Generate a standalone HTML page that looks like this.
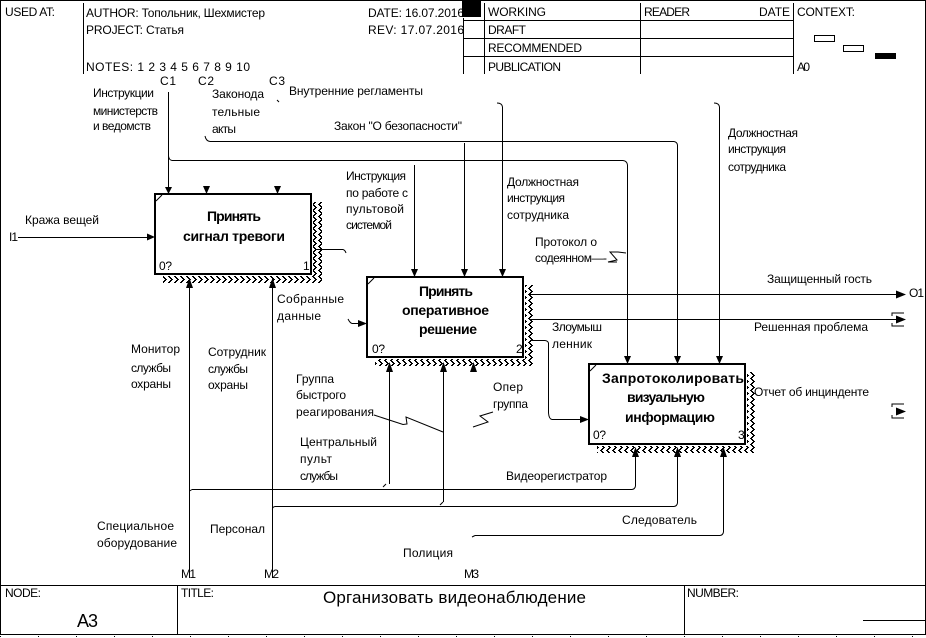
<!DOCTYPE html>
<html><head><meta charset="utf-8"><style>
html,body{margin:0;padding:0;background:#fff;width:926px;height:638px;overflow:hidden}
svg{display:block}
text{font-family:"Liberation Sans",sans-serif;font-size:12px;fill:#000}
.b{font-weight:bold;font-size:14px}
.l{fill:none;stroke:#000;stroke-width:1}
.box{fill:#fff;stroke:#000;stroke-width:2}
</style></head><body>
<svg width="926" height="638" viewBox="0 0 926 638" xmlns="http://www.w3.org/2000/svg">
<defs>
<pattern id="h" width="6" height="6" patternUnits="userSpaceOnUse">
<rect x="0" y="0" width="2" height="1" fill="#000"/><rect x="1" y="1" width="2" height="1" fill="#000"/><rect x="2" y="2" width="2" height="1" fill="#000"/>
<rect x="3" y="3" width="2" height="1" fill="#000"/><rect x="2" y="4" width="2" height="1" fill="#000"/><rect x="1" y="5" width="2" height="1" fill="#000"/>
</pattern>
</defs>
<rect width="926" height="638" fill="#fff"/>
<g shape-rendering="crispEdges">
<path class="l" d="M0.5,0.5H925.5V634.5H0.5Z"/>
<path class="l" d="M83.5,3V74M463.5,18V74M484.5,3V74M640.5,3V74M793.5,3V74"/>
<path class="l" d="M463,20.5H793M463,38.5H793M463,56.5H793"/>
<rect x="462" y="0" width="19" height="17" fill="#000"/>
<rect x="814.5" y="35.5" width="20" height="6" fill="#fff" stroke="#000"/>
<rect x="843.5" y="45.5" width="20" height="6" fill="#fff" stroke="#000"/>
<rect x="875" y="53" width="21" height="6" fill="#000"/>
<path class="l" d="M0,585.5H926M177.5,585V634M684.5,585V634M863,620.5H926"/>
<path d="M0,636.5H926" stroke="#000" stroke-width="1" stroke-dasharray="1 37" fill="none"/>

<rect x="313" y="202" width="9" height="81" fill="url(#h)"/>
<rect x="163" y="276" width="159" height="7" fill="url(#h)"/>
<rect x="525" y="285" width="9" height="81" fill="url(#h)"/>
<rect x="375" y="359" width="159" height="7" fill="url(#h)"/>
<rect x="747" y="372" width="9" height="81" fill="url(#h)"/>
<rect x="597" y="446" width="159" height="7" fill="url(#h)"/>

<rect class="box" x="155" y="194" width="156" height="80"/>
<rect class="box" x="367" y="277" width="156" height="80"/>
<rect class="box" x="589" y="364" width="156" height="80"/>
</g>
<path class="l" d="M156,201L162,195M368,284L374,278M590,371L596,365"/>

<g shape-rendering="crispEdges">
<path class="l" d="M168.5,92V187M18,237.5H150"/>
<path class="l" d="M172,160.5H623M210,141.5H674M627.5,165V357M677.5,145V357M502.5,107V270M719.5,107V357M464.5,143V270M414.5,165V270"/>
<path class="l" d="M189.5,288V575M272.5,288V578M389.5,372V484M443.5,372V502"/>
<path class="l" d="M192,489.5H632M275,506.5H674M475,535.5H720M635.5,457V486M677.5,457V503M723.5,457V532"/>
<path class="l" d="M529,294.5H900M529,319.5H900M315,249.5H343M352,323.5H360M530,340.5H545M548.5,343V413M552,419.5H582"/>
</g>
<path class="l" d="M168.5,156Q169,160 172,160.5M205,136Q206,141 210,141.5M674,141.5Q677,142 677.5,145M623,160.5Q627,161 627.5,165M497,103Q502,103 502.5,107M714,103Q719,103 719.5,107M343,249.5Q345,250 346,253M348,319Q350,323 352,323.5M545,340.5Q548,341 548.5,343M548.5,413Q549,419 552,419.5M386,484L383,487M443,502L440,505M635.5,486Q635,489 632,489.5M677.5,503Q677,506 674,506.5M723.5,532Q723,535 720,535.5M475,535.5L472,537M275,506.5Q272,507 272.5,510M192,489.5L189.5,491M277,100L279,102"/>
<path class="l" d="M374,415L403,424.5L407,424L406,417L443,432M493,412L480,416L488,422L473,427M626,253L618,252H613L610,252L617,260L608,262H617"/>

<g fill="#000">
<path d="M165,187H172L168.5,194Z"/><path d="M203,186H210L206.5,194Z"/><path d="M274,186H281L277.5,194Z"/>
<path d="M411,269H418L414.5,277Z"/><path d="M461,269H468L464.5,277Z"/><path d="M499,269H506L502.5,277Z"/>
<path d="M624,356H631L627.5,364Z"/><path d="M674,356H681L677.5,364Z"/><path d="M716,356H723L719.5,364Z"/>
<path d="M147,233.5V240.5L155,237Z"/><path d="M358,320V327L367,323.5Z"/><path d="M580,416V423L589,419.5Z"/>
<path d="M186,288H193L189.5,278Z"/><path d="M269,288H276L272.5,278Z"/>
<path d="M386,372H393L389.5,362Z"/><path d="M440,372H447L443.5,362Z"/><path d="M470,372H477L473.5,362Z"/>
<path d="M632,457H639L635.5,447Z"/><path d="M674,457H681L677.5,447Z"/><path d="M720,457H727L723.5,447Z"/>
<path d="M896,290.5V298.5L906,294.5Z"/><path d="M896,315.5V323.5L906,319.5Z"/><path d="M896,407.5V415.5L906,411.5Z"/>
</g>
<path class="l" d="M892,316V313H904M892,323V326H904M892,407V404H904M892,415V418H904" shape-rendering="crispEdges"/>

<g>
<text x="5" y="16" textLength="50">USED AT:</text>
<text x="86" y="17" textLength="179">AUTHOR: Топольник, Шехмистер</text>
<text x="86" y="34" textLength="98">PROJECT: Статья</text>
<text x="86" y="71" textLength="164">NOTES: 1 2 3 4 5 6 7 8 9 10</text>
<text x="368" y="17" textLength="96">DATE: 16.07.2016</text>
<text x="368" y="34" textLength="96">REV: 17.07.2016</text>
<text x="488" y="16" textLength="58">WORKING</text>
<text x="488" y="34" textLength="38">DRAFT</text>
<text x="488" y="52" textLength="94">RECOMMENDED</text>
<text x="488" y="71" textLength="73">PUBLICATION</text>
<text x="644" y="16" textLength="46">READER</text>
<text x="759" y="16" textLength="31">DATE</text>
<text x="797" y="16" textLength="58">CONTEXT:</text>
<text x="797" y="71" textLength="13">A0</text>

<text x="160" y="85" textLength="16">C1</text>
<text x="198" y="85" textLength="16">C2</text>
<text x="269" y="85" textLength="16">C3</text>
<text x="93" y="97" textLength="61">Инструкции</text>
<text x="93" y="115" textLength="65">министерств</text>
<text x="93" y="130" textLength="58">и ведомств</text>
<text x="212" y="98" textLength="52">Законода</text>
<text x="212" y="116" textLength="48">тельные</text>
<text x="212" y="133" textLength="24">акты</text>
<text x="289" y="95" textLength="134">Внутренние регламенты</text>
<text x="334" y="130" textLength="128">Закон "О безопасности"</text>
<text x="346" y="180" textLength="60">Инструкция</text>
<text x="346" y="197" textLength="62">по работе с</text>
<text x="346" y="213" textLength="58">пультовой</text>
<text x="346" y="229" textLength="46">системой</text>
<text x="507" y="186" textLength="72">Должностная</text>
<text x="507" y="202" textLength="58">инструкция</text>
<text x="507" y="219" textLength="62">сотрудника</text>
<text x="728" y="137" textLength="70">Должностная</text>
<text x="728" y="153" textLength="58">инструкция</text>
<text x="728" y="171" textLength="58">сотрудника</text>
<text x="535" y="246" textLength="62">Протокол о</text>
<text x="535" y="262" textLength="72">содеянном—-</text>
<text x="25" y="224" textLength="74">Кража вещей</text>
<text x="9" y="241" textLength="9">I1</text>

<text class="b" x="207" y="221" textLength="54">Принять</text>
<text class="b" x="183" y="241" textLength="102">сигнал тревоги</text>
<text x="159" y="270" textLength="13">0?</text>
<text x="303" y="270">1</text>
<text x="277" y="303" textLength="67">Собранные</text>
<text x="277" y="320" textLength="44">данные</text>
<text x="131" y="353" textLength="49">Монитор</text>
<text x="131" y="372" textLength="40">службы</text>
<text x="131" y="388" textLength="40">охраны</text>
<text x="208" y="356" textLength="58">Сотрудник</text>
<text x="208" y="373" textLength="40">службы</text>
<text x="208" y="389" textLength="40">охраны</text>

<text class="b" x="419" y="296" textLength="54">Принять</text>
<text class="b" x="402" y="315" textLength="87">оперативное</text>
<text class="b" x="419" y="334" textLength="58">решение</text>
<text x="372" y="353" textLength="13">0?</text>
<text x="516" y="353">2</text>
<text x="552" y="331" textLength="50">Злоумыш</text>
<text x="552" y="348" textLength="40">ленник</text>

<text x="767" y="283" textLength="105">Защищенный гость</text>
<text x="909" y="297" textLength="15">O1</text>
<text x="754" y="331" textLength="114">Решенная проблема</text>
<text x="754" y="396" textLength="115">Отчет об инцинденте</text>

<text class="b" x="602" y="383" textLength="142">Запротоколировать</text>
<text class="b" x="627" y="402" textLength="78">визуальную</text>
<text class="b" x="625" y="422" textLength="90">информацию</text>
<text x="593" y="439" textLength="13">0?</text>
<text x="738" y="439">3</text>

<text x="296" y="383" textLength="38">Группа</text>
<text x="296" y="399" textLength="50">быстрого</text>
<text x="296" y="416" textLength="78">реагирования</text>
<text x="493" y="391" textLength="30">Опер</text>
<text x="493" y="408" textLength="35">группа</text>
<text x="300" y="446" textLength="77">Центральный</text>
<text x="300" y="463" textLength="32">пульт</text>
<text x="300" y="480" textLength="38">службы</text>
<text x="506" y="480" textLength="101">Видеорегистратор</text>
<text x="622" y="524" textLength="75">Следователь</text>
<text x="403" y="557" textLength="50">Полиция</text>
<text x="210" y="533" textLength="55">Персонал</text>
<text x="97" y="530" textLength="77">Специальное</text>
<text x="97" y="547" textLength="80">оборудование</text>
<text x="181" y="578" textLength="15">M1</text>
<text x="264" y="578" textLength="15">M2</text>
<text x="464" y="578" textLength="15">M3</text>

<text x="5" y="597" textLength="36">NODE:</text>
<text x="181" y="597" textLength="33">TITLE:</text>
<text x="323" y="603" style="font-size:17px" textLength="263">Организовать видеонаблюдение</text>
<text x="687" y="597" textLength="52">NUMBER:</text>
<text x="77" y="627" style="font-size:18px" textLength="21">A3</text>
</g>
</svg>
</body></html>
